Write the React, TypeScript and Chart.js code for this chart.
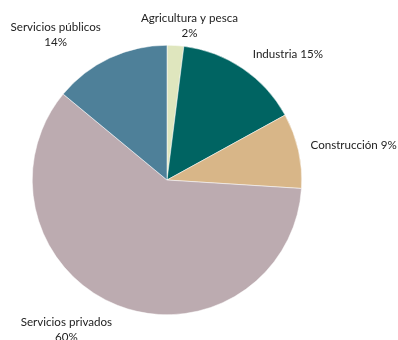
import React, { useEffect, useRef } from "react";
import { Chart, registerables } from "chart.js";

Chart.register(...registerables);

const categories = ["Agricultura y pesca", "Industria", "Construcción", "Servicios privados", "Servicios públicos"];
const values = [2, 15, 9, 60, 14];
const colors = ["#dfe6be", "#006462", "#d8b688", "#bcabb0", "#4e8099"];
// label text lines, alignment and offsets from each slice's outer midpoint
const labelLines = [
  ["Agricultura y pesca", "2%"],
  ["Industria 15%"],
  ["Construcción 9%"],
  ["Servicios privados", "60%"],
  ["Servicios públicos", "14%"],
];
const labelAlign: CanvasTextAlign[] = ["center", "left", "left", "center", "center"];
const labelOffsets = [
  [14, -20],
  [10, -14],
  [12, -5],
  [-51, 24],
  [-54, -23],
];

const labelPlugin = {
  id: "outLabels",
  afterDatasetsDraw(chart: any) {
    const ctx = chart.ctx;
    const meta = chart.getDatasetMeta(0);
    ctx.save();
    ctx.font = "11.6px Lato";
    ctx.fillStyle = "#222222";
    ctx.textBaseline = "middle";
    meta.data.forEach((arc: any, i: number) => {
      const mid = (arc.startAngle + arc.endAngle) / 2;
      const px = arc.x + Math.cos(mid) * arc.outerRadius + labelOffsets[i][0];
      const py = arc.y + Math.sin(mid) * arc.outerRadius + labelOffsets[i][1];
      ctx.textAlign = labelAlign[i];
      const lines = labelLines[i];
      const lh = 15;
      lines.forEach((t, j) => {
        ctx.fillText(t, px, py + (j - (lines.length - 1) / 2) * lh);
      });
    });
    ctx.restore();
  },
};

export default function App() {
  const ref = useRef<HTMLCanvasElement>(null);
  useEffect(() => {
    const chart = new Chart(ref.current!, {
      type: "pie",
      data: {
        labels: categories,
        datasets: [
          {
            data: values,
            backgroundColor: colors,
            borderColor: "#ffffff",
            borderWidth: 0.5,
          },
        ],
      },
      options: {
        animation: false,
        responsive: false,
        layout: { padding: { left: 32, right: 96, top: 45, bottom: 25 } },
        plugins: { legend: { display: false }, tooltip: { enabled: false } },
      },
      plugins: [labelPlugin],
    });
    return () => chart.destroy();
  }, []);
  return (
    <div style={{ position: "fixed", left: 0, top: 0, width: 398, height: 340, background: "#fff" }}>
      <canvas ref={ref} width={398} height={340} />
    </div>
  );
}
